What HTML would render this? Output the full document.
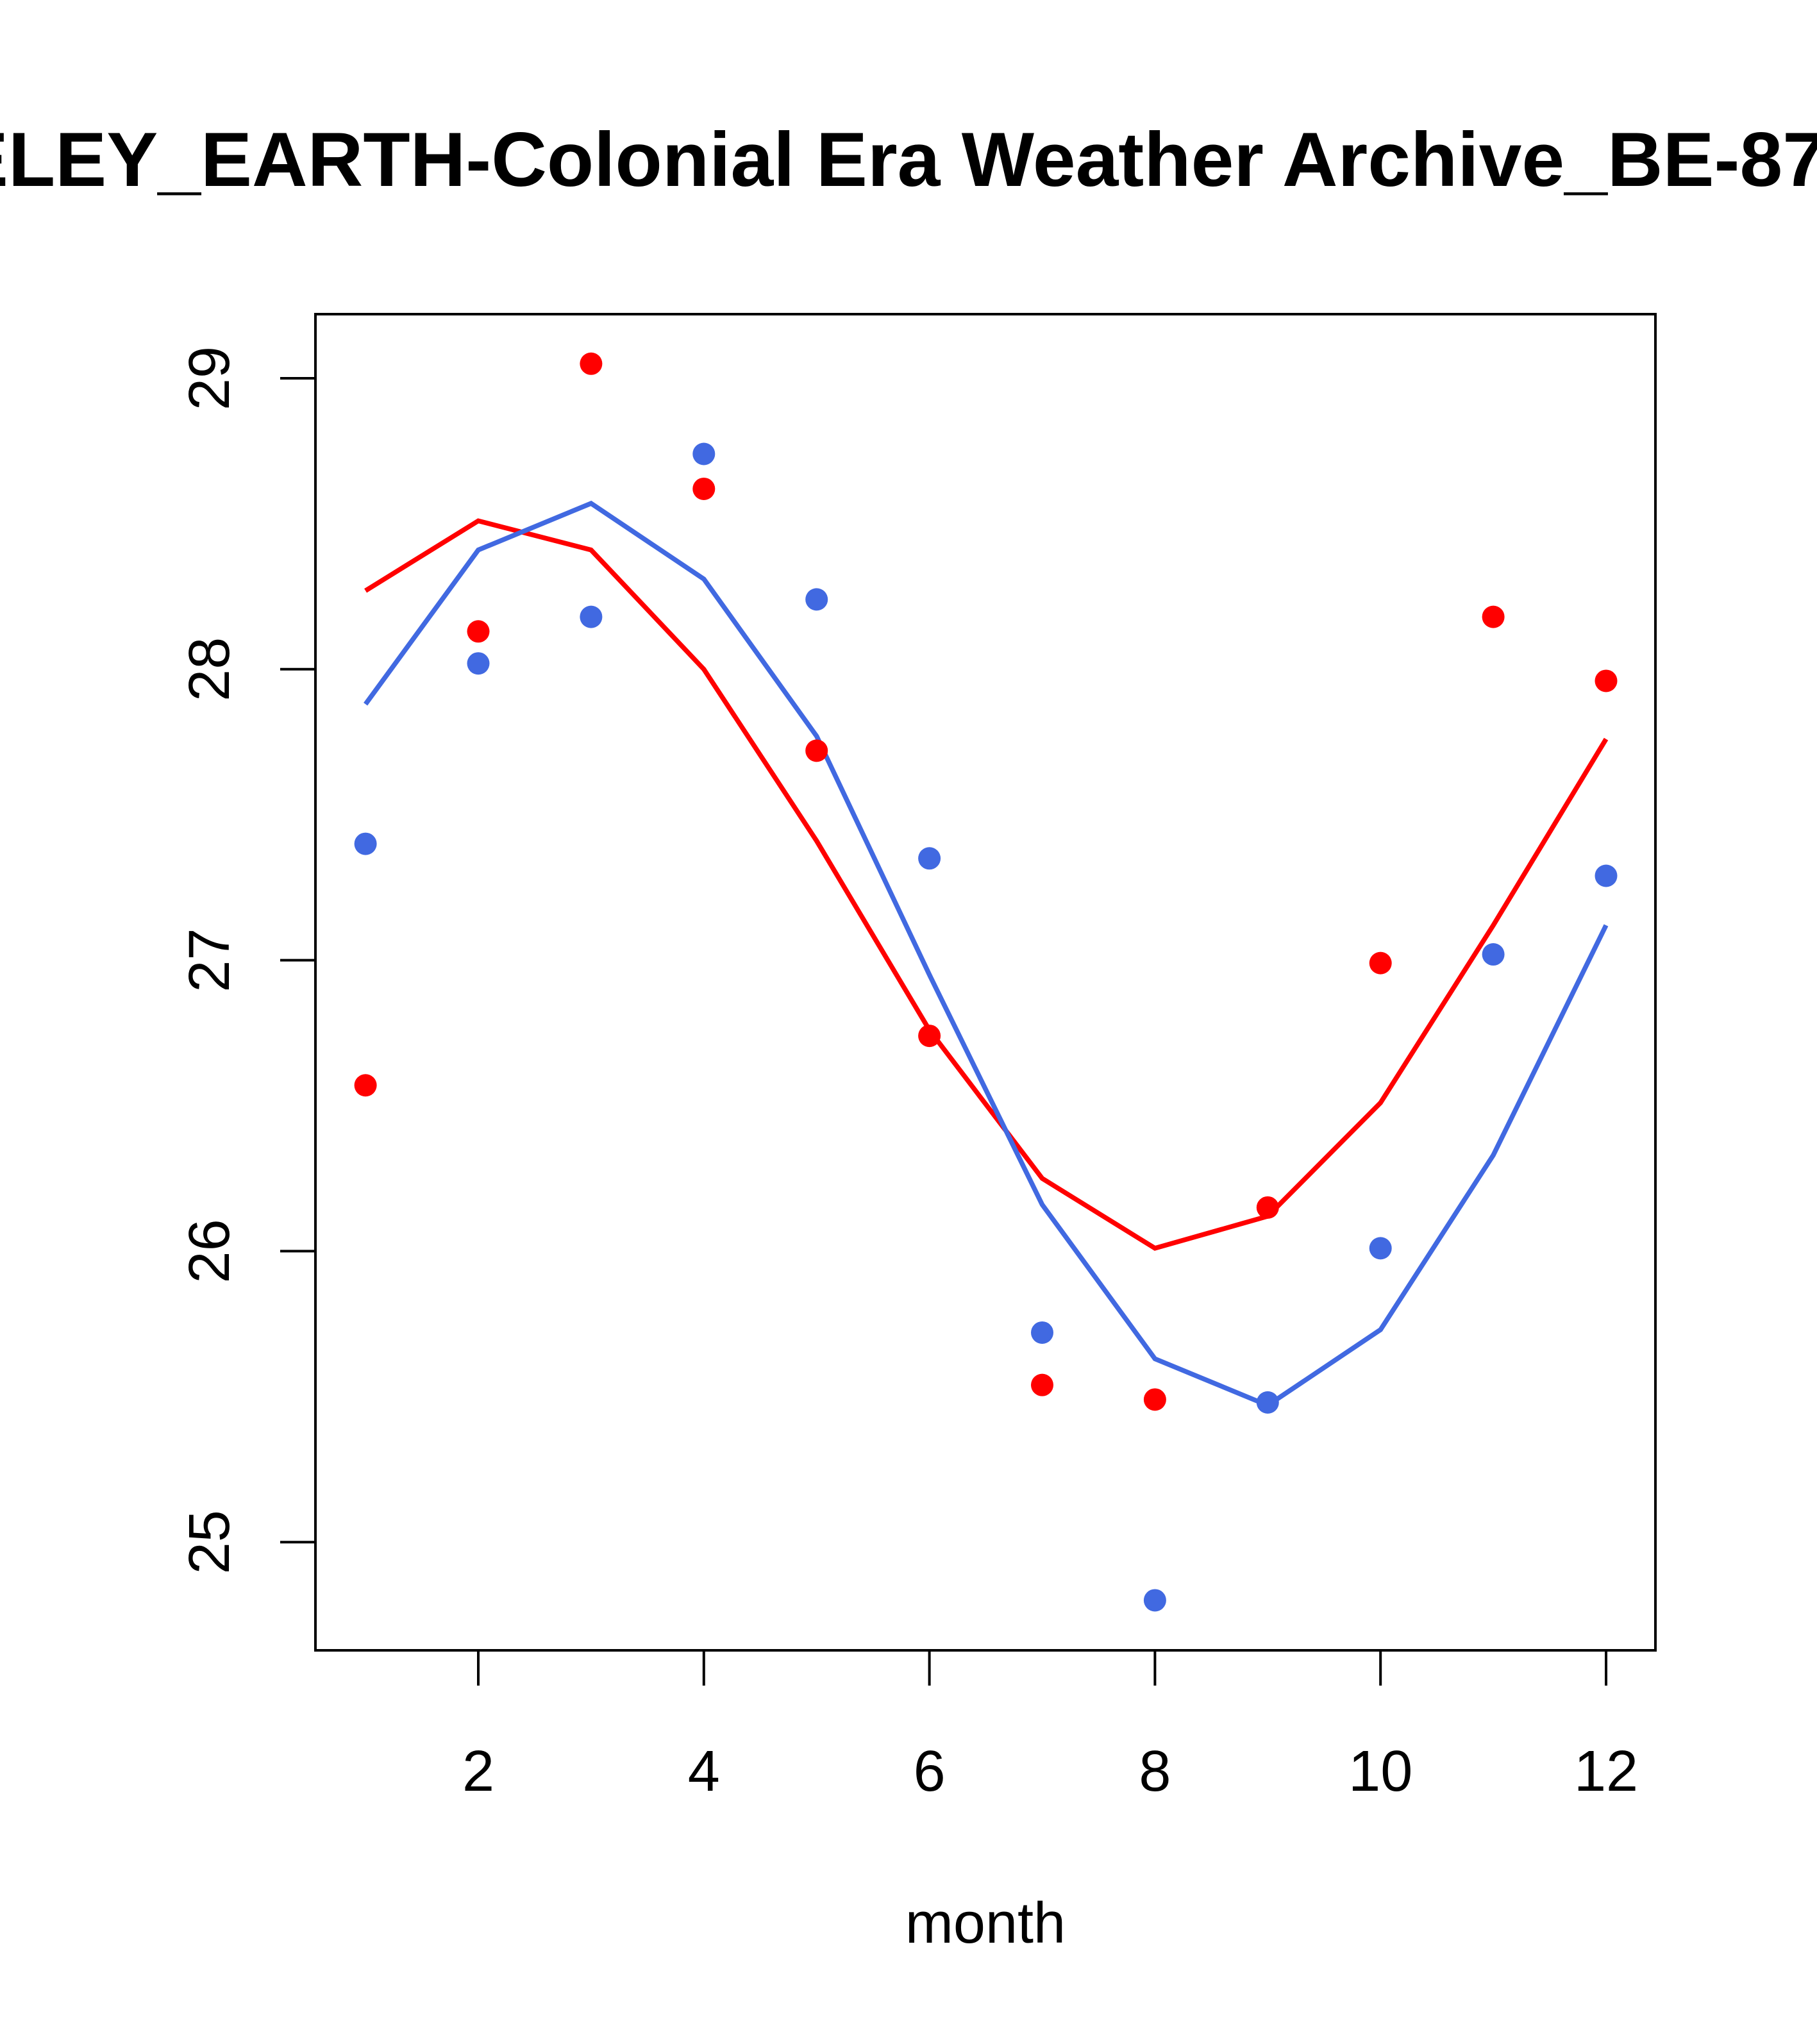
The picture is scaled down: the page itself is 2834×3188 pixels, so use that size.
<!DOCTYPE html>
<html><head><meta charset="utf-8"><style>html,body{margin:0;padding:0;background:#fff}svg{display:block}</style></head>
<body>
<svg id="chart" width="2834" height="3188" viewBox="0 0 2834 3188" xmlns="http://www.w3.org/2000/svg" font-family="Liberation Sans, sans-serif">
<rect width="2834" height="3188" fill="#fff"/>
<text x="1320" y="290" text-anchor="middle" font-size="120" font-weight="bold">BERKELEY_EARTH-Colonial Era Weather Archive_BE-87654</text>
<rect x="492" y="490" width="2090" height="2084" fill="none" stroke="#000" stroke-width="4"/>
<text x="1537" y="3030" text-anchor="middle" font-size="90">month</text>
<g id="axes"></g><g id="marks"></g>
</svg>
<script>
const months=[1,2,3,4,5,6,7,8,9,10,11,12];
const redPoints=[26.57,28.13,29.05,28.62,27.72,26.74,25.54,25.49,26.15,26.99,28.18,27.96];
const bluePoints=[27.40,28.02,28.18,28.74,28.24,27.35,25.72,24.80,25.48,26.01,27.02,27.29];
const redLine=[28.27,28.51,28.41,28.00,27.41,26.76,26.25,26.01,26.12,26.51,27.12,27.76];
const blueLine=[27.88,28.41,28.57,28.31,27.77,26.95,26.16,25.63,25.47,25.73,26.33,27.12];
const xTicks=[2,4,6,8,10,12];
const yTicks=[25,26,27,28,29];
const NS="http://www.w3.org/2000/svg";
function sx(m){return 746+(m-2)*175.9;}
function sy(v){return 590+(29-v)*453.8;}
const axes=document.getElementById('axes'),marks=document.getElementById('marks');
function mk(tag,attrs,parent){const e=document.createElementNS(NS,tag);for(const k in attrs)e.setAttribute(k,attrs[k]);parent.appendChild(e);return e;}
xTicks.forEach(t=>{
  const l=mk('line',{x1:sx(t),x2:sx(t),y1:2574,y2:2629,stroke:'#000','stroke-width':4},axes);
  
  
  const tx=mk('text',{x:sx(t),y:2793,'text-anchor':'middle','font-size':90},axes);
  tx.textContent=t;
  
  
});
yTicks.forEach(t=>{
  const l=mk('line',{x1:437,x2:492,y1:sy(t),y2:sy(t),stroke:'#000','stroke-width':4},axes);
  
  
  const tx=mk('text',{x:0,y:0,'text-anchor':'middle','font-size':90,transform:`translate(357,${sy(t)}) rotate(-90)`},axes);
  tx.textContent=t;
  
  
});
function line(vals,color,name){
  const p=mk('polyline',{points:vals.map((v,i)=>sx(months[i])+','+sy(v)).join(' '),fill:'none',stroke:color,'stroke-width':7.5},marks);
  
  
}
function pts(vals,color,name){
  vals.forEach((v,i)=>{
    const c=mk('circle',{cx:sx(months[i]),cy:sy(v),r:17.5,fill:color},marks);
    
    
  });
}
line(redLine,'#ff0000','red-smooth-line');
line(blueLine,'#4169e1','blue-smooth-line');
pts(redPoints,'#ff0000','red-point');
pts(bluePoints,'#4169e1','blue-point');
</script>
</body></html>
